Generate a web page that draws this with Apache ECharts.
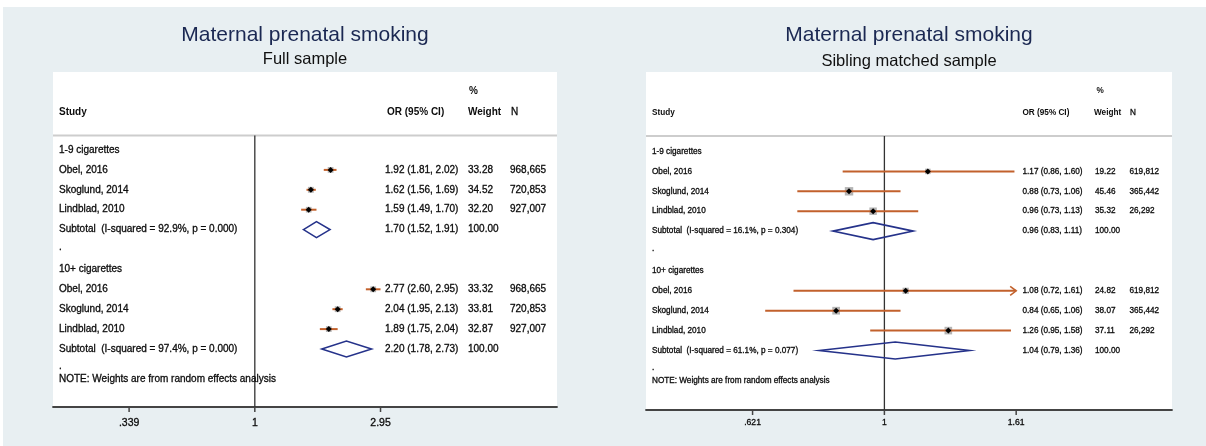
<!DOCTYPE html>
<html>
<head>
<meta charset="utf-8">
<script src="https://cdn.jsdelivr.net/npm/echarts@6/dist/echarts.min.js"></script>
<style>
  html, body { margin: 0; padding: 0; background: #fff; }
  #chart { width: 1206px; height: 446px; }
</style>
</head>
<body>
<div id="chart"></div>
<script>
// ---------------- data ----------------
const studies = ['Obel, 2016', 'Skoglund, 2014', 'Lindblad, 2010'];
const groups = ['1-9 cigarettes', '10+ cigarettes'];
const noteText = 'NOTE: Weights are from random effects analysis';
const headers = { study: 'Study', or: 'OR (95% CI)', pct: '%', weight: 'Weight', n: 'N' };

// Full sample, 1-9 cigarettes
const full19Or = [1.92, 1.62, 1.59];
const full19Lo = [1.81, 1.56, 1.49];
const full19Hi = [2.02, 1.69, 1.70];
const full19Weight = [33.28, 34.52, 32.20];
const full19Sub = [1.70, 1.52, 1.91];
const full19Het = 'Subtotal  (I-squared = 92.9%, p = 0.000)';
// Full sample, 10+ cigarettes
const full10Or = [2.77, 2.04, 1.89];
const full10Lo = [2.60, 1.95, 1.75];
const full10Hi = [2.95, 2.13, 2.04];
const full10Weight = [33.32, 33.81, 32.87];
const full10Sub = [2.20, 1.78, 2.73];
const full10Het = 'Subtotal  (I-squared = 97.4%, p = 0.000)';
const fullN = ['968,665', '720,853', '927,007'];
const fullTicks = [0.339, 1, 2.95];
const fullTickLabels = ['.339', '1', '2.95'];

// Sibling matched sample, 1-9 cigarettes
const sib19Or = [1.17, 0.88, 0.96];
const sib19Lo = [0.86, 0.73, 0.73];
const sib19Hi = [1.60, 1.06, 1.13];
const sib19Weight = [19.22, 45.46, 35.32];
const sib19Sub = [0.96, 0.83, 1.11];
const sib19Het = 'Subtotal  (I-squared = 16.1%, p = 0.304)';
// Sibling matched sample, 10+ cigarettes
const sib10Or = [1.08, 0.84, 1.26];
const sib10Lo = [0.72, 0.65, 0.95];
const sib10Hi = [1.61, 1.06, 1.58];
const sib10Weight = [24.82, 38.07, 37.11];
const sib10Sub = [1.04, 0.79, 1.36];
const sib10Het = 'Subtotal  (I-squared = 61.1%, p = 0.077)';
// upper CI limit runs past the plotted range (drawn with an arrow)
const sib10HiClipped = [true, false, false];
const sibN = ['619,812', '365,442', '26,292'];
const sibTicks = [0.621, 1, 1.61];
const sibTickLabels = ['.621', '1', '1.61'];

// ---------------- styles ----------------
const FONT = "'Liberation Sans', Arial, sans-serif";
const TEXT_COLOR = '#0c0c0c';
const CI_COLOR = '#c2612c';
const DIAMOND_COLOR = '#25328a';
const BOX_COLOR = '#b4b4b4';
const AXIS_COLOR = '#444';
const BG = '#e8eff2';

// ---------------- row model ----------------
function buildRows(g1, g2, nList) {
  const rows = [];
  let r = 0;
  [g1, g2].forEach((g, gi) => {
    rows.push({ row: r++, kind: 'group', label: groups[gi] });
    studies.forEach((s, i) => {
      rows.push({
        row: r++, kind: 'study', label: s,
        or: g.or[i], lo: g.lo[i], hi: g.hi[i], w: g.w[i], n: nList[i],
        clipHi: g.clipHi ? g.clipHi[i] : false
      });
    });
    rows.push({ row: r++, kind: 'sub', label: g.het, or: g.sub[0], lo: g.sub[1], hi: g.sub[2], w: 100 });
    rows.push({ row: r, kind: 'dot', label: '.' });
    if (gi === 0) r++;
  });
  rows.push({ row: r + 0.5, kind: 'note', label: noteText });
  return rows;
}

const ciText = (a, b, c) => `${a.toFixed(2)} (${b.toFixed(2)}, ${c.toFixed(2)})`;

const panels = [
  {
    title: 'Maternal prenatal smoking', subtitle: 'Full sample',
    titleX: 305, subGap: 2,
    grid: { left: 53, top: 72, width: 504, height: 335 },
    rowTop: 150, rowStep: 19.9,
    xMin: 0.1761, xMax: 13.47,
    cols: { label: 6, or: 332, orHead: 334, w: 415, wHead: 415, pct: 416, n: 457, nHead: 458 },
    font: 10, tickFont: 10.5, head: { pct: 19, study: 40, sep: 63.5 },
    diamondH: 16, tickLabelDy: 16, boxScale: 1.0,
    ticks: fullTicks, tickLabels: fullTickLabels,
    rows: buildRows(
      { or: full19Or, lo: full19Lo, hi: full19Hi, w: full19Weight, sub: full19Sub, het: full19Het },
      { or: full10Or, lo: full10Lo, hi: full10Hi, w: full10Weight, sub: full10Sub, het: full10Het },
      fullN)
  },
  {
    title: 'Maternal prenatal smoking', subtitle: 'Sibling matched sample',
    titleX: 909, subGap: 4,
    grid: { left: 646, top: 72, width: 526, height: 338 },
    rowTop: 151.5, rowStep: 19.9,
    xMin: 0.4225, xMax: 2.8275,
    cols: { label: 6, or: 376.5, orHead: 376.5, w: 449, wHead: 448, pct: 450.5, n: 483.5, nHead: 484 },
    font: 8.2, tickFont: 8.6, head: { pct: 19, study: 41, sep: 64 },
    diamondH: 17, tickLabelDy: 13, boxScale: 1.25,
    ticks: sibTicks, tickLabels: sibTickLabels,
    rows: buildRows(
      { or: sib19Or, lo: sib19Lo, hi: sib19Hi, w: sib19Weight, sub: sib19Sub, het: sib19Het },
      { or: sib10Or, lo: sib10Lo, hi: sib10Hi, w: sib10Weight, sub: sib10Sub, het: sib10Het, clipHi: sib10HiClipped },
      sibN)
  }
];

function txt(text, x, y, size, extra) {
  return {
    type: 'text',
    style: Object.assign({
      text, x, y, fill: TEXT_COLOR, fontSize: size, fontFamily: FONT,
      align: 'left', verticalAlign: 'middle',
      stroke: TEXT_COLOR, lineWidth: 0.3
    }, extra || {})
  };
}

const option = {
  backgroundColor: BG,
  animation: false,
  graphic: [
    { type: 'rect', shape: { x: 0, y: 0, width: 1206, height: 7 }, style: { fill: '#fff' }, silent: true },
    { type: 'rect', shape: { x: 0, y: 0, width: 3, height: 446 }, style: { fill: '#fff' }, silent: true }
  ],
  title: [], grid: [], xAxis: [], yAxis: [], series: []
};

panels.forEach((p, pi) => {
  option.title.push({
    text: p.title, subtext: p.subtitle,
    left: p.titleX, textAlign: 'center', top: 23, padding: 0, itemGap: p.subGap,
    textStyle: { fontFamily: FONT, fontSize: 21, fontWeight: 'normal', color: '#1b2852', lineHeight: 24 },
    subtextStyle: { fontFamily: FONT, fontSize: 16.5, color: '#101010', lineHeight: 20 }
  });
  option.grid.push(Object.assign({ show: true, backgroundColor: '#fff', borderWidth: 0 }, p.grid));
  option.xAxis.push({
    type: 'log', gridIndex: pi, min: p.xMin, max: p.xMax,
    axisLine: { show: true, onZero: false, lineStyle: { color: AXIS_COLOR, width: 1.8 } },
    axisTick: { show: false }, axisLabel: { show: false }, splitLine: { show: false }
  });
  const bottom = p.grid.top + p.grid.height;
  option.yAxis.push({
    type: 'value', gridIndex: pi, inverse: true, show: false,
    min: -(p.rowTop - p.grid.top) / p.rowStep,
    max: (bottom - p.rowTop) / p.rowStep,
    splitLine: { show: false }
  });

  // header, separator, null line and axis ticks
  option.series.push({
    type: 'custom', xAxisIndex: pi, yAxisIndex: pi, silent: true, z: 3,
    data: [[1, 0]],
    renderItem(params, api) {
      const cs = params.coordSys;
      const x0 = cs.x, top = cs.y, bot = cs.y + cs.height;
      const xNull = api.coord([1, 0])[0];
      const kids = [];
      kids.push({ type: 'line', shape: { x1: x0, y1: top + p.head.sep, x2: x0 + cs.width, y2: top + p.head.sep },
        style: { stroke: '#cdcdcd', lineWidth: 2 } });
      kids.push({ type: 'line', shape: { x1: xNull, y1: top + p.head.sep, x2: xNull, y2: bot },
        style: { stroke: '#333', lineWidth: 1.3 } });
      const bold = { fontWeight: 'bold', lineWidth: 0 };
      kids.push(txt(headers.study, x0 + p.cols.label, top + p.head.study, p.font, bold));
      kids.push(txt(headers.or, x0 + p.cols.orHead, top + p.head.study, p.font, bold));
      kids.push(txt(headers.pct, x0 + p.cols.pct, top + p.head.pct, p.font, bold));
      kids.push(txt(headers.weight, x0 + p.cols.wHead, top + p.head.study, p.font, bold));
      kids.push(txt(headers.n, x0 + p.cols.nHead, top + p.head.study, p.font));
      p.ticks.forEach((t, i) => {
        const tx = api.coord([t, 0])[0];
        kids.push({ type: 'line', shape: { x1: tx, y1: bot, x2: tx, y2: bot + 5 },
          style: { stroke: AXIS_COLOR, lineWidth: 1.5 } });
        kids.push(txt(p.tickLabels[i], tx, bot + p.tickLabelDy, p.tickFont, { align: 'center' }));
      });
      return { type: 'group', children: kids };
    }
  });

  // table text columns
  option.series.push({
    type: 'custom', xAxisIndex: pi, yAxisIndex: pi, silent: true, z: 4,
    data: p.rows.map(r => [1, r.row]),
    renderItem(params, api) {
      const r = p.rows[params.dataIndex];
      const x0 = params.coordSys.x;
      const y = api.coord([1, r.row])[1];
      const kids = [];
      if (r.kind === 'dot') {
        kids.push(txt(r.label, x0 + p.cols.label, y - 2.5, p.font));
      } else {
        kids.push(txt(r.label, x0 + p.cols.label, y, p.font));
      }
      if (r.kind === 'study' || r.kind === 'sub') {
        kids.push(txt(ciText(r.or, r.lo, r.hi), x0 + p.cols.or, y, p.font));
        kids.push(txt(r.w.toFixed(2), x0 + p.cols.w, y, p.font));
        if (r.n) kids.push(txt(r.n, x0 + p.cols.n, y, p.font));
      }
      return { type: 'group', children: kids };
    }
  });

  // estimates: CI lines, weight boxes, point markers, pooled diamonds
  const marks = p.rows.filter(r => r.kind === 'study' || r.kind === 'sub');
  option.series.push({
    type: 'custom', xAxisIndex: pi, yAxisIndex: pi, silent: true, z: 5,
    data: marks.map(r => [r.or, r.row, r.lo, r.hi]),
    renderItem(params, api) {
      const r = marks[params.dataIndex];
      const c = api.coord([api.value(0), api.value(1)]);
      const xl = api.coord([api.value(2), r.row])[0];
      const xh = api.coord([api.value(3), r.row])[0];
      const y = c[1];
      if (r.kind === 'sub') {
        const h = p.diamondH / 2;
        return {
          type: 'polygon',
          shape: { points: [[xl, y], [c[0], y - h], [xh, y], [c[0], y + h]] },
          style: { fill: null, stroke: DIAMOND_COLOR, lineWidth: 1.6 }
        };
      }
      const kids = [];
      const side = Math.sqrt(r.w) * p.boxScale;
      kids.push({ type: 'rect', shape: { x: c[0] - side / 2, y: y - side / 2, width: side, height: side },
        style: { fill: BOX_COLOR } });
      kids.push({ type: 'line', shape: { x1: xl, y1: y, x2: xh, y2: y },
        style: { stroke: CI_COLOR, lineWidth: 2 } });
      if (r.clipHi) {
        kids.push({ type: 'polyline', shape: { points: [[xh - 6, y - 4.5], [xh, y], [xh - 6, y + 4.5]] },
          style: { stroke: CI_COLOR, lineWidth: 1.6, fill: null } });
      }
      const d = 3;
      kids.push({ type: 'polygon', shape: { points: [[c[0] - d, y], [c[0], y - d], [c[0] + d, y], [c[0], y + d]] },
        style: { fill: '#000' } });
      return { type: 'group', children: kids };
    }
  });
});

const chart = echarts.init(document.getElementById('chart'), null, { renderer: 'canvas' });
chart.setOption(option);
</script>
</body>
</html>
